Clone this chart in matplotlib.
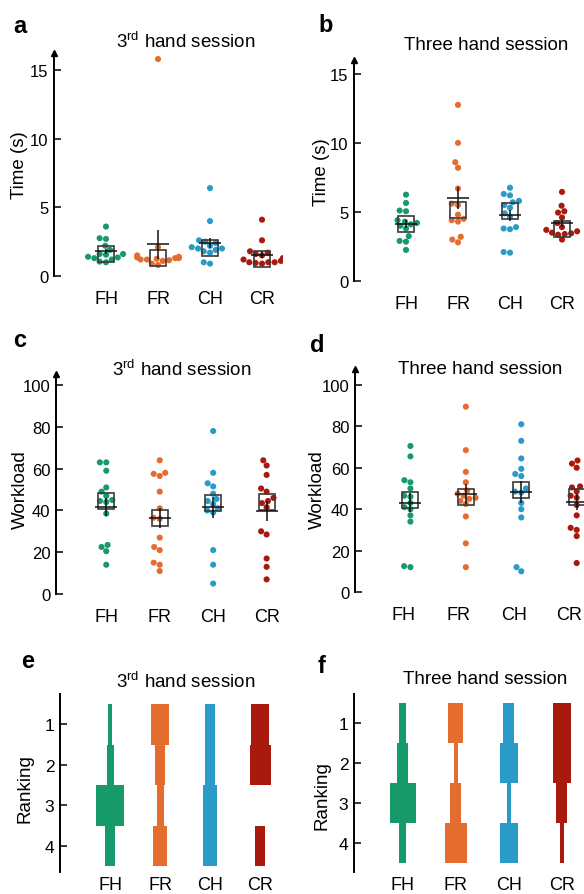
import numpy as np
import pandas as pd
import matplotlib
matplotlib.use('Agg')
import matplotlib.pyplot as plt
import seaborn as sns

plt.rcParams['font.family'] = ['Liberation Sans', 'DejaVu Sans']
plt.rcParams['mathtext.fontset'] = 'custom'
plt.rcParams['mathtext.rm'] = 'Liberation Sans'

CONDS = ['FH', 'FR', 'CH', 'CR']
COLORS = ['#179a6a', '#e56c2f', '#2a9bc8', '#a8190e']

# a: time, 3rd hand session
TIME_3RD = [
    [3.6, 2.75, 2.7, 2.2, 1.9, 1.6, 1.6, 1.55, 1.4, 1.35, 1.3, 1.2, 1.05, 1.0],
    [15.8, 2.1, 1.5, 1.4, 1.35, 1.3, 1.3, 1.25, 1.2, 1.2, 1.15, 1.1, 0.9, 0.8],
    [6.4, 4.0, 2.6, 2.5, 2.4, 2.2, 2.1, 2.0, 2.0, 1.9, 1.8, 1.7, 1.0, 0.9],
    [4.1, 2.6, 1.8, 1.7, 1.6, 1.5, 1.3, 1.2, 1.1, 1.0, 1.0, 1.0, 0.95, 0.9],
]
# b: time, three hand session
TIME_THREE = [
    [6.25, 5.65, 5.1, 5.05, 4.4, 4.3, 4.2, 4.1, 4.0, 3.8, 3.25, 2.9, 2.85, 2.25],
    [12.75, 10.0, 8.6, 8.2, 6.7, 5.6, 5.5, 4.8, 4.5, 4.4, 4.3, 3.2, 3.0, 2.8],
    [6.75, 6.3, 6.2, 5.8, 5.7, 5.5, 5.3, 4.9, 4.65, 3.9, 3.8, 3.75, 2.1, 2.05],
    [6.45, 5.45, 5.05, 4.95, 4.6, 4.2, 3.9, 3.7, 3.6, 3.5, 3.45, 3.4, 3.35, 3.0],
]
# c: workload, 3rd hand session
LOAD_3RD = [
    [63, 63, 59, 51, 49, 47, 45, 44.5, 44, 38.5, 23.5, 22.5, 20.5, 14],
    [64, 58, 57.5, 56.5, 49, 41, 36.5, 36, 27, 22.5, 21, 15, 14, 11],
    [78, 58, 53, 51.5, 48, 45.5, 44.5, 43, 41, 40, 39, 21, 14, 5],
    [64, 61.5, 57, 50.5, 49, 46, 44.5, 43.5, 41.5, 30, 28.5, 17, 13, 7],
]
# d: workload, three hand session
LOAD_THREE = [
    [70.5, 65.5, 54, 53, 50, 46.5, 46, 43, 41, 40, 37, 34, 12.5, 12],
    [89.5, 68.5, 58, 53, 49, 47.5, 46.5, 45.5, 45, 44, 42.5, 36.5, 23.5, 12],
    [81, 73, 64.5, 59.5, 57, 56, 50, 48.5, 48, 43, 40, 36, 12, 10],
    [63.5, 62, 60, 51, 50.5, 48.5, 46.5, 45.5, 42, 37, 31, 30, 27, 14],
]
# e/f: number of participants giving rank 1..4
RANKS = [1, 2, 3, 4]
RANK_3RD = [[1, 2, 8, 3], [5, 3, 2, 4], [3, 3, 4, 4], [5, 6, 0, 3]]
RANK_THREE = [[2, 3, 7, 2], [4, 1, 3, 6], [3, 5, 1, 5], [5, 5, 3, 1]]

TITLE_3RD = '3$^{\\mathrm{rd}}$ hand session'
TITLE_THREE = 'Three hand session'

W, H = 584, 895
fig = plt.figure(figsize=(W / 100, H / 100), dpi=100)


def rect(left, top, right, bottom):
    return [left / W, 1 - bottom / H, (right - left) / W, (bottom - top) / H]


def style_axis(ax, xpad, tick_shift=0.0):
    for s in ['top', 'right', 'bottom']:
        ax.spines[s].set_visible(False)
    ax.spines['left'].set_linewidth(1.4)
    ax.tick_params(axis='y', direction='in', length=5, width=1.1, labelsize=12, pad=4)
    ax.tick_params(axis='x', length=0, labelsize=13, pad=xpad)
    ax.set_xticks(np.arange(len(CONDS)) + tick_shift)
    ax.set_xticklabels(CONDS)
    ax.set_xlabel('')
    ax.set_ylabel('')
    ax.patch.set_alpha(0)


def dot_panel(ax, vals, xlim, ylim, yticks, tick_shift=0.0):
    df = pd.DataFrame({
        'cond': np.repeat(CONDS, [len(v) for v in vals]),
        'val': np.concatenate(vals),
    })
    sns.swarmplot(data=df, x='cond', y='val', hue='cond', order=CONDS,
                  hue_order=CONDS, palette=COLORS, size=4.4, ax=ax,
                  legend=False, zorder=1, linewidth=0)
    for i, v in enumerate(vals):
        v = np.asarray(v)
        se = v.std(ddof=1) / np.sqrt(len(v))
        ax.plot(i, np.median(v), 's', ms=11, mfc='none', mec='#3a3a3a',
                mew=1.2, zorder=3)
        ax.errorbar(i, v.mean(), yerr=se, fmt='_', ms=16, mew=1.1,
                    color='#111111', elinewidth=1.1, capsize=0, zorder=4)
    ax.set_xlim(*xlim)
    ax.set_ylim(*ylim)
    ax.set_yticks(yticks)
    style_axis(ax, 10, tick_shift)
    ax.plot(0, 1, marker='^', ms=5, color='k', transform=ax.transAxes,
            clip_on=False)


def rank_panel(ax, counts, xlim, ylim, scale=0.07):
    for i, c in enumerate(counts):
        for r, n in zip(RANKS, c):
            if n > 0:
                ax.bar(i, 1.0, width=n * scale, bottom=r - 0.5,
                       color=COLORS[i], edgecolor='none')
    ax.set_xlim(*xlim)
    ax.set_ylim(*ylim)
    ax.set_yticks(RANKS)
    style_axis(ax, 3)
    ax.tick_params(axis='y', labelsize=12.5)


ax_a = fig.add_axes(rect(54, 54, 282.8, 277))
dot_panel(ax_a, TIME_3RD, (-1.0, 3.4), (0, 16.24), [0, 5, 10, 15])
ax_b = fig.add_axes(rect(354, 61, 582.8, 282))
dot_panel(ax_b, TIME_THREE, (-1.0, 3.4), (0, 16.0), [0, 5, 10, 15])
ax_c = fig.add_axes(rect(56, 375, 288, 595))
dot_panel(ax_c, LOAD_3RD, (-0.94, 3.4), (0, 105.3), [0, 20, 40, 60, 80, 100])
ax_d = fig.add_axes(rect(355, 370, 585, 593))
dot_panel(ax_d, LOAD_THREE, (-1.0, 3.15), (0, 107.7), [0, 20, 40, 60, 80, 100],
          tick_shift=-0.13)
ax_e = fig.add_axes(rect(60, 695, 285, 873))
rank_panel(ax_e, RANK_3RD, (-1.0, 3.5), (4.64, 0.254))
ax_f = fig.add_axes(rect(354, 695, 583, 873))
rank_panel(ax_f, RANK_THREE, (-0.92, 3.4), (4.725, 0.275))


def ftext(x, y, s, **kw):
    fig.text(x / W, 1 - y / H, s, **kw)


# panel letters
for letter, x, y in [('a', 13, 33), ('b', 318, 32), ('c', 13, 347),
                     ('d', 310, 352), ('e', 21, 668), ('f', 318, 673)]:
    ftext(x, y, letter, fontsize=17, fontweight='bold', ha='left', va='baseline')

# titles
for s, x, y in [(TITLE_3RD, 186, 42), (TITLE_THREE, 486, 45),
                (TITLE_3RD, 182, 370), (TITLE_THREE, 480, 370),
                (TITLE_3RD, 186, 682), (TITLE_THREE, 485, 680)]:
    ftext(x, y, s, fontsize=13.5, ha='center', va='center')

# y labels
for s, x, y in [('Time (s)', 19, 165), ('Time (s)', 322, 172),
                ('Workload', 20, 490), ('Workload', 317, 490),
                ('Ranking', 25, 789), ('Ranking', 322, 796)]:
    ftext(x, y, s, fontsize=13.5, ha='center', va='center', rotation=90)

fig.savefig('out.png', dpi=100)
